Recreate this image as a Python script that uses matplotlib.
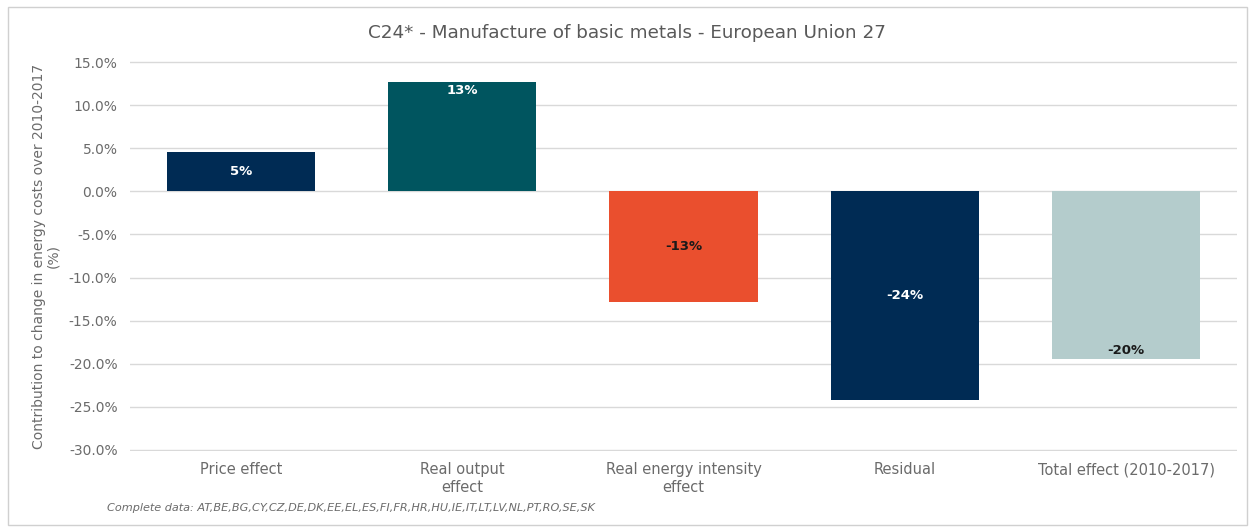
import matplotlib
matplotlib.use("Agg")
import matplotlib.pyplot as plt
from matplotlib.patches import Rectangle
from matplotlib.ticker import FuncFormatter, MultipleLocator

categories = ["Price effect", "Real output\neffect", "Real energy intensity\neffect",
              "Residual", "Total effect (2010-2017)"]
values = [4.6, 12.7, -12.8, -24.2, -19.5]
labels = ["5%", "13%", "-13%", "-24%", "-20%"]
colors = ["#002B54", "#00555F", "#EA4F2E", "#002B54", "#B4CCCC"]
label_colors = ["white", "white", "#1a1a1a", "white", "#1a1a1a"]
label_pos = ["center", "end", "center", "center", "end"]

title = "C24* - Manufacture of basic metals - European Union 27"
ylabel = "Contribution to change in energy costs over 2010-2017\n(%)"
footnote = "Complete data: AT,BE,BG,CY,CZ,DE,DK,EE,EL,ES,FI,FR,HR,HU,IE,IT,LT,LV,NL,PT,RO,SE,SK"

plt.rcParams['font.family'] = ['DejaVu Sans']
fig = plt.figure(figsize=(12.55, 5.32), dpi=100)
fig.patches.append(Rectangle((0.006, 0.013), 0.988, 0.974, transform=fig.transFigure,
                             fill=False, edgecolor="#D0D0D0", linewidth=1.0))
ax = fig.add_axes([0.1036, 0.152, 0.882, 0.7335])

x = list(range(len(categories)))
bars = ax.bar(x, values, width=0.67, color=colors, zorder=3)
ax.set_xlim(-0.5, len(categories) - 0.5)
ax.set_ylim(-30.15, 15.15)
ax.yaxis.set_major_locator(MultipleLocator(5))
ax.yaxis.set_major_formatter(FuncFormatter(lambda v, p: f"{v:.1f}%"))
ax.grid(axis="y", color="#D9D9D9", linewidth=1.0, zorder=0)
ax.set_axisbelow(True)
for s in ax.spines.values():
    s.set_visible(False)
ax.tick_params(length=0, colors="#6b6b6b", labelsize=10)
ax.tick_params(axis="y", pad=9)
ax.tick_params(axis="x", pad=8)
ax.set_xticks(x)
ax.set_xticklabels(categories, color="#6b6b6b", fontsize=10.5, linespacing=1.25)
ax.set_ylabel(ylabel, color="#6b6b6b", fontsize=10, labelpad=6, linespacing=1.05)

for xi, v, lab, lc, pos in zip(x, values, labels, label_colors, label_pos):
    if pos == "center":
        y = v / 2
    else:
        y = v - (1.0 if v > 0 else -1.0)
    ax.text(xi, y, lab, ha="center", va="center", color=lc, fontsize=9.5,
            fontweight="semibold", zorder=4)

fig.text(0.5, 0.938, title, ha="center", va="center", fontsize=13.2, color="#595959")
fig.text(0.085, 0.045, footnote, ha="left", va="center", fontsize=8.1, style="italic", color="#6b6b6b")

fig.savefig("out.png", dpi=100)
